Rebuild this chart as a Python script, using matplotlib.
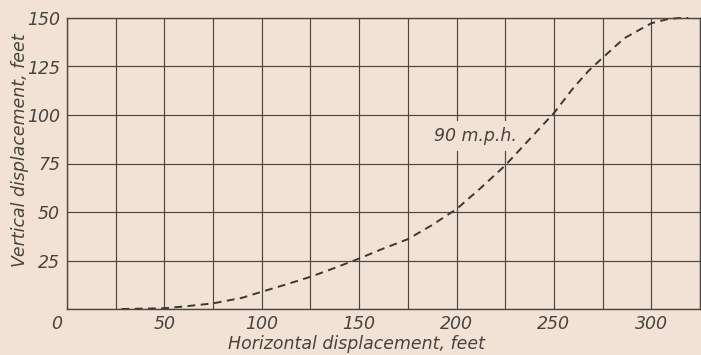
import matplotlib
matplotlib.use("Agg")
import matplotlib.pyplot as plt
import matplotlib.transforms as mtransforms

# Data (90 m.p.h. trajectory)
horizontal_ft = [28, 50, 60, 75, 90, 100, 112, 125, 137, 150, 162, 175, 187, 200,
                 212, 225, 237, 250, 260, 268, 275, 286, 300, 308, 314, 319]
vertical_ft = [0, 0.4, 1.3, 2.9, 5.8, 8.9, 12.5, 16.6, 21, 26, 31, 36, 43, 51.5,
               62, 74, 87, 101, 114, 123, 129.5, 139.5, 147.3, 149.3, 150, 150]
x_ticks = [0, 50, 100, 150, 200, 250, 300]
y_ticks = [25, 50, 75, 100, 125, 150]
curve_label = "90 m.p.h."

bg = "#f2e2d6"
ink = "#47443f"

fig = plt.figure(figsize=(7.01, 3.55), dpi=100, facecolor=bg)
W, H = 701, 355
ax = fig.add_axes([67 / W, (H - 309) / H, (700 - 67) / W, (309 - 18) / H])
ax.set_facecolor(bg)
ax.set_xlim(0, 325)
ax.set_ylim(0, 150)

ax.set_xticks(x_ticks)
ax.set_yticks(y_ticks)
ax.set_xticks(range(0, 326, 25), minor=True)
ax.set_yticks(range(0, 151, 25), minor=True)
ax.grid(True, which="both", color="#4a4640", linewidth=0.85)
ax.set_axisbelow(True)
for s in ax.spines.values():
    s.set_color("#4a4640")
    s.set_linewidth(1.0)

font = dict(family="DejaVu Sans", style="italic", color=ink)
ax.set_xticklabels([str(v) for v in x_ticks], fontsize=12.5, **font)
ax.set_yticklabels([str(v) for v in y_ticks], fontsize=12.5, **font)
ax.tick_params(axis="both", which="both", length=0)
ax.tick_params(axis="x", pad=4)
ax.tick_params(axis="y", pad=5)
# shift the "0" label left as in the reference
lbl0 = ax.get_xticklabels()[0]
lbl0.set_transform(lbl0.get_transform() + mtransforms.ScaledTranslation(-10 / 100, 0, fig.dpi_scale_trans))

ax.plot(horizontal_ft, vertical_ft, color="#3a3835", linewidth=1.4,
        linestyle=(0, (4, 2.8)), clip_on=False, zorder=2)

ax.text(209.5, 89, curve_label, fontsize=12.5, ha="center", va="center", zorder=1.5, **font,
        bbox=dict(boxstyle="square,pad=0.35", facecolor=bg, edgecolor="none"))

fig.text(356 / W, 1 - 344 / H, "Horizontal displacement, feet", fontsize=12.5,
         ha="center", va="center", **font)
fig.text(20 / W, 1 - 150 / H, "Vertical displacement, feet", fontsize=12.5,
         ha="center", va="center", rotation=90, **font)

fig.savefig("out.png", dpi=100, facecolor=bg)
